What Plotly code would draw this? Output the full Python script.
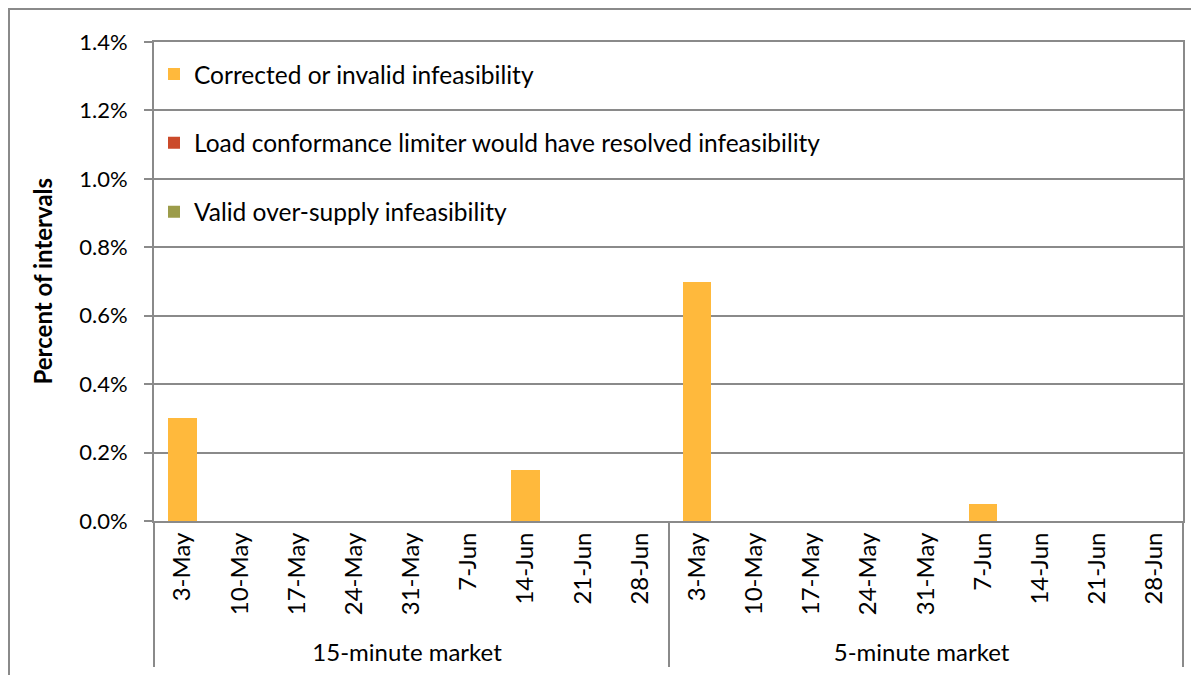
import plotly.graph_objects as go

markets = ["15-minute market"] * 9 + ["5-minute market"] * 9
weeks = ["3-May", "10-May", "17-May", "24-May", "31-May", "7-Jun", "14-Jun", "21-Jun", "28-Jun"] * 2

corrected = [0.0030, 0, 0, 0, 0, 0, 0.0015, 0, 0,
             0.0070, 0, 0, 0, 0, 0.0005, 0, 0, 0]
load_conf = [0] * 18
valid_over = [0] * 18

series_names = ["Corrected or invalid infeasibility",
                "Load conformance limiter would have resolved infeasibility",
                "Valid over-supply infeasibility"]
series_vals = [corrected, load_conf, valid_over]
colors = ["#FFB93C", "#CB4A2A", "#9C9C4A"]

FONT = "Lato"
GRID = "#8A8A8A"

ML, MT, MR, MB = 146, 34, 24, 162
W, H = 1199, 675
PW, PH = W - ML - MR, H - MT - MB

fig = go.Figure()
for i, (name, vals, col) in enumerate(zip(series_names, series_vals, colors)):
    fig.add_trace(go.Bar(
        x=[markets, weeks], y=vals, name=name,
        marker=dict(color=col, line=dict(width=0)),
        legendgroup=f"g{i}",
    ))

fig.update_layout(
    width=W, height=H,
    barmode="stack", bargap=0.5,
    paper_bgcolor="white", plot_bgcolor="white",
    margin=dict(l=ML, r=MR, t=MT, b=MB),
    font=dict(family=FONT, size=22, color="#000000"),
    showlegend=True,
    legend=dict(x=0.0, y=0.98, xanchor="left", yanchor="top",
                bgcolor="rgba(0,0,0,0)", tracegroupgap=34,
                font=dict(family=FONT, size=24.5), itemwidth=30,
                traceorder="grouped"),
    xaxis=dict(type="multicategory", tickangle=-90, showline=True, linecolor=GRID,
               linewidth=2, mirror=True, showgrid=False, ticks="",
               dividercolor=GRID, dividerwidth=2,
               tickfont=dict(family=FONT, size=24)),
    yaxis=dict(range=[0, 0.014], dtick=0.002, tickformat=".1%",
               showgrid=True, gridcolor=GRID, gridwidth=2,
               showline=True, linecolor=GRID, linewidth=2, mirror=True,
               ticks="outside", ticklen=8, tickcolor=GRID, tickwidth=2,
               ticklabelstandoff=12, zeroline=False,
               tickfont=dict(family=FONT, size=22)),
    annotations=[dict(text="<b>Percent of intervals</b>", xref="paper", yref="paper",
                      x=(34 - ML) / PW, y=0.5, textangle=-90, showarrow=False,
                      xanchor="center", yanchor="middle",
                      font=dict(family=FONT, size=24, color="#000000"))],
    shapes=[dict(type="rect", xref="paper", yref="paper",
                 x0=-(ML - 1) / PW, x1=1.05, y0=-0.4, y1=1 + (MT - 1) / PH,
                 line=dict(color=GRID, width=2), fillcolor="rgba(0,0,0,0)", layer="below")],
)

fig.write_html("out.html")
